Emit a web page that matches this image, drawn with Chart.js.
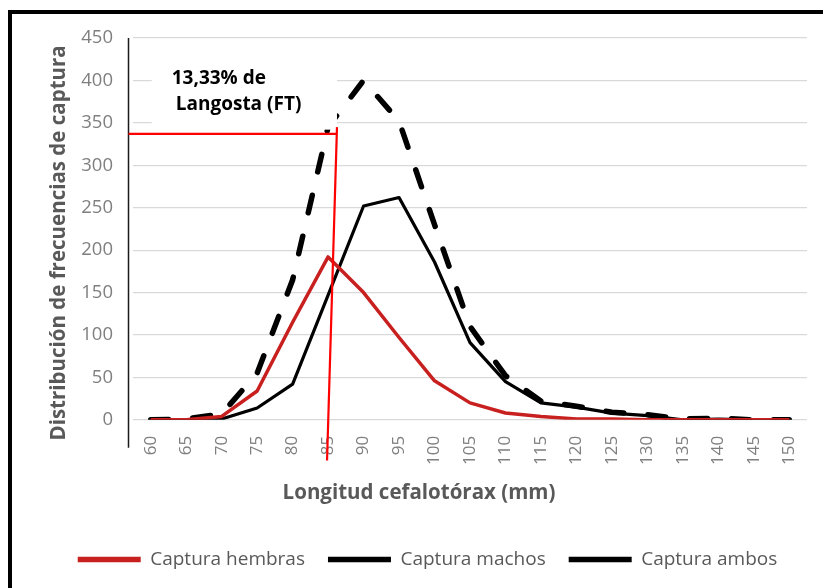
<!DOCTYPE html>
<html>
<head>
<meta charset="utf-8">
<script src="https://cdn.jsdelivr.net/npm/chart.js@4.4.1/dist/chart.umd.min.js"></script>
<style>
  html, body { margin: 0; padding: 0; background: #ffffff; }
  #wrap { position: relative; width: 823px; height: 588px; overflow: hidden; }
  #frame { position: absolute; left: 8px; top: 10px; width: 900px; height: 700px;
           border: 4px solid #000; box-sizing: border-box; pointer-events: none; }
  canvas { position: absolute; left: 0; top: 0; }
</style>
</head>
<body>
<div id="wrap">
  <canvas id="c" width="823" height="588"></canvas>
  <div id="frame"></div>
</div>
<script>
// ---- data ----
const categories = ['60','65','70','75','80','85','90','95','100','105','110','115','120','125','130','135','140','145','150'];
const capturaHembras = [0, 0, 4, 34, 115, 192, 150, 97, 46, 20, 8, 4, 1, 1, 0, 0, 0, 0, 0];
const capturaMachos  = [0, 0, 1, 14, 42, 147, 252, 262, 186, 91, 45, 20, 15, 8, 5, 0, 1, 0, 0];
const capturaAmbos   = [0, 1, 7, 55, 165, 345, 400, 352, 230, 110, 52, 22, 16, 9, 6, 1, 2, 0, 0];
const yTickMin = 0;
const yTickMax = 450;
const yTickStep = 50;
const seriesNames = ['Captura hembras', 'Captura machos', 'Captura ambos'];
const axisTitleX = 'Longitud cefalotórax (mm)';
const axisTitleY = 'Distribución de frecuencias de captura';
const noteLines = ['13,33% de', 'Langosta (FT)'];
// annotation reference values (data units: category index / frequency)
const noteLevel = 337;          // horizontal red line level
const noteIdxTop = 5.25;        // vertical red line, top end (category index)
const noteIdxBottom = 4.97;     // vertical red line, bottom end
const noteTopValue = 345;
const noteBottomValue = -48;
const axisExtendValue = -33;    // vertical axis line runs a little below zero

const FONT = '"Open Sans", "Liberation Sans", sans-serif';
const RED = '#c8201f';
const TITLE_FONT = 'bold 20.5px ' + FONT;

const overlay = {
  id: 'overlay',
  afterDatasetsDraw(chart) {
    const {ctx, chartArea, scales} = chart;
    const x = scales.x, y = scales.y;
    const axisX = chartArea.left - 4.5;
    ctx.save();
    // vertical axis line
    ctx.strokeStyle = '#1a1a1a';
    ctx.lineWidth = 1.5;
    ctx.beginPath();
    ctx.moveTo(axisX, chartArea.top);
    ctx.lineTo(axisX, y.getPixelForValue(axisExtendValue));
    ctx.stroke();

    // axis titles
    ctx.fillStyle = '#595959';
    ctx.font = TITLE_FONT;
    ctx.textAlign = 'center';
    ctx.textBaseline = 'middle';
    const midY = (chartArea.top + y.getPixelForValue(axisExtendValue)) / 2;
    ctx.save();
    ctx.translate(59, midY);
    ctx.rotate(-Math.PI / 2);
    ctx.fillText(axisTitleY, 0, 0);
    ctx.restore();
    ctx.fillText(axisTitleX, 419, x.bottom - 22 - 11.5);

    // white text box
    const boxL = x.getPixelForValue(0) + 1;
    const boxR = x.getPixelForValue(noteIdxTop);
    const boxT = y.getPixelForValue(420);
    const boxB = y.getPixelForValue(noteTopValue - 3);
    ctx.fillStyle = '#ffffff';
    ctx.fillRect(boxL, boxT, boxR - boxL, boxB - boxT);

    // red lines
    ctx.strokeStyle = '#ff0000';
    ctx.lineWidth = 2.2;
    ctx.beginPath();
    ctx.moveTo(axisX, y.getPixelForValue(noteLevel));
    ctx.lineTo(x.getPixelForValue(noteIdxTop), y.getPixelForValue(noteLevel));
    ctx.stroke();
    ctx.beginPath();
    ctx.moveTo(x.getPixelForValue(noteIdxTop), y.getPixelForValue(noteTopValue));
    ctx.lineTo(x.getPixelForValue(noteIdxBottom), y.getPixelForValue(noteBottomValue));
    ctx.stroke();

    // note text
    ctx.fillStyle = '#000000';
    ctx.font = 'bold 19px ' + FONT;
    ctx.textBaseline = 'middle';
    ctx.textAlign = 'left';
    ctx.fillText(noteLines[0], boxL + 20, y.getPixelForValue(402));
    ctx.fillText(noteLines[1], boxL + 24, y.getPixelForValue(372));
    ctx.restore();
  }
};

const legendLabels = (chart) => {
  const items = Chart.defaults.plugins.legend.labels.generateLabels(chart);
  items.forEach(it => { it.lineWidth = 5.5; it.pointStyle = 'line'; });
  return items;
};

new Chart(document.getElementById('c'), {
  type: 'line',
  data: {
    labels: categories,
    datasets: [
      { label: seriesNames[0], data: capturaHembras, borderColor: RED, backgroundColor: RED,
        borderWidth: 3.5, pointRadius: 0, tension: 0, borderJoinStyle: 'round' },
      { label: seriesNames[1], data: capturaMachos, borderColor: '#000000', backgroundColor: '#000000',
        borderWidth: 3.2, pointRadius: 0, tension: 0, borderJoinStyle: 'round' },
      { label: seriesNames[2], data: capturaAmbos, borderColor: '#000000', backgroundColor: '#000000',
        borderWidth: 5.5, pointRadius: 0, tension: 0, borderDash: [18, 24], borderCapStyle: 'round' }
    ]
  },
  options: {
    responsive: false,
    animation: false,
    devicePixelRatio: 1,
    layout: { padding: { left: 48, right: 16, top: 38, bottom: 9 } },
    plugins: {
      tooltip: { enabled: false },
      legend: {
        position: 'bottom',
        labels: {
          usePointStyle: true,
          pointStyleWidth: 63,
          padding: 23,
          color: '#595959',
          font: { family: FONT, size: 19 },
          generateLabels: legendLabels
        }
      }
    },
    scales: {
      x: {
        offset: true,
        afterFit: (scale) => { scale.height += 62; },
        grid: { display: false, drawTicks: true, tickLength: 16 },
        border: { display: false },
        ticks: { minRotation: 90, maxRotation: 90, padding: 0, color: '#7f7f7f',
                 font: { family: FONT, size: 17 }, autoSkip: false },
        title: { display: false }
      },
      y: {
        min: yTickMin,
        max: yTickMax,
        afterFit: (scale) => { scale.width = 85; },
        grid: { color: '#d9d9d9', lineWidth: 1.2, drawTicks: false },
        border: { display: false },
        ticks: { stepSize: yTickStep, padding: 20, color: '#7f7f7f',
                 font: { family: FONT, size: 18.5 } }
      }
    }
  },
  plugins: [overlay]
});
</script>
</body>
</html>
